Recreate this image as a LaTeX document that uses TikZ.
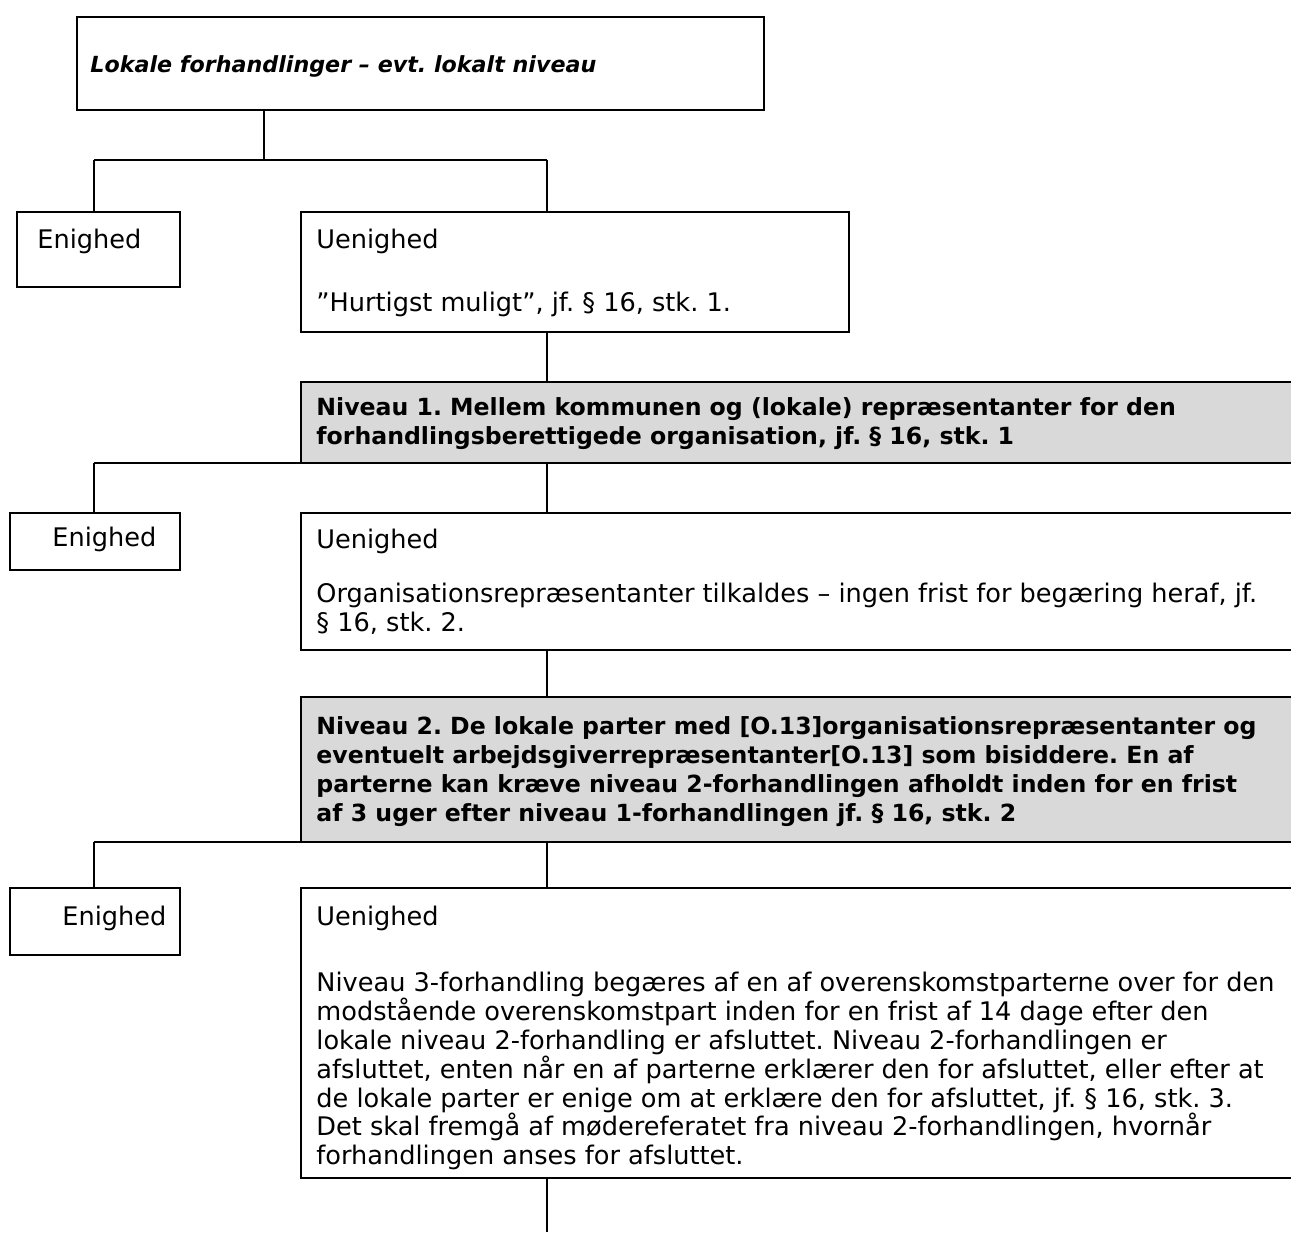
\documentclass[tikz,border=0pt]{standalone}
\usepackage{fontspec}
\setmainfont{DejaVu Sans}
\usepackage{tikz}
\usetikzlibrary{positioning}
\frenchspacing

\begin{document}
\begin{tikzpicture}[x=0.5pt,y=-0.5pt,
  box/.style={draw,line width=1pt,inner sep=0pt,outer sep=0pt,anchor=north west},
  graybox/.style={box,fill=black!15},
  link/.style={line width=0.6pt},
  txt/.style={inner sep=0pt,anchor=north west,align=left,font=\fontsize{12.8}{14.4}\selectfont},
  boldtxt/.style={txt,font=\fontsize{11.8}{14.5}\selectfont\bfseries}]
\useasboundingbox (0,0) rectangle (1291,1235);
\clip (0,0) rectangle (1291,1235);

% boxes
\node[box,minimum width=343.5pt,minimum height=46.5pt] (top) at (77,17) {};
\node[box,minimum width=81.5pt,minimum height=37.5pt] (enig1) at (17,212) {};
\node[box,minimum width=274pt,minimum height=60pt] (uenig1) at (301,212) {};
\node[graybox,minimum width=499.5pt,minimum height=40.5pt] (niv1) at (301,382) {};
\node[box,minimum width=85pt,minimum height=28.5pt] (enig2) at (10,513) {};
\node[box,minimum width=499.5pt,minimum height=68.5pt] (uenig2) at (301,513) {};
\node[graybox,minimum width=499.5pt,minimum height=72.5pt] (niv2) at (301,697) {};
\node[box,minimum width=85pt,minimum height=33.5pt] (enig3) at (10,888) {};
\node[box,minimum width=499.5pt,minimum height=145pt] (uenig3) at (301,888) {};

% texts
\node[txt,font=\fontsize{11.1}{14.5}\selectfont\bfseries\itshape] (toptxt) at (90,55) {Lokale forhandlinger – evt. lokalt niveau};
\node[txt] (enig1txt) at (37,229) {Enighed};
\node[txt] (uenig1txt) at (316,229) {Uenighed};
\node[txt] (uenig1par) at (316,292) {”Hurtigst muligt”, jf. § 16, stk. 1.};
\node[boldtxt] (niv1txt) at (316,397) {Niveau 1. Mellem kommunen og (lokale) repræsentanter for den\\
forhandlingsberettigede organisation, jf. § 16, stk. 1};
\node[txt] (enig2txt) at (52,527) {Enighed};
\node[txt] (uenig2txt) at (316,529) {Uenighed};
\node[txt] (uenig2par) at (316,583) {Organisationsrepræsentanter tilkaldes – ingen frist for begæring heraf, jf.\\
§ 16, stk. 2.};
\node[boldtxt] (niv2txt) at (316,716) {Niveau 2. De lokale parter med [O.13]organisationsrepræsentanter og\\
eventuelt arbejdsgiverrepræsentanter[O.13] som bisiddere. En af\\
parterne kan kræve niveau 2-forhandlingen afholdt inden for en frist\\
af 3 uger efter niveau 1-forhandlingen jf. § 16, stk. 2};
\node[txt] (enig3txt) at (62,906) {Enighed};
\node[txt] (uenig3txt) at (316,906) {Uenighed};
\node[txt] (uenig3par) at (316,972) {Niveau 3-forhandling begæres af en af overenskomstparterne over for den\\
modstående overenskomstpart inden for en frist af 14 dage efter den\\
lokale niveau 2-forhandling er afsluttet. Niveau 2-forhandlingen er\\
afsluttet, enten når en af parterne erklærer den for afsluttet, eller efter at\\
de lokale parter er enige om at erklære den for afsluttet, jf. § 16, stk. 3.\\
Det skal fremgå af mødereferatet fra niveau 2-forhandlingen, hvornår\\
forhandlingen anses for afsluttet.};

% connectors
\coordinate (lcol) at (94,0);
\coordinate (rcol) at (547,0);
\coordinate (split1) at (264,160);
\coordinate (tail) at (547,1232);
\draw[link] (split1 |- top.south) -- (split1);
\draw[link] (lcol |- split1) -- (rcol |- split1);
\draw[link] (lcol |- split1) -- (lcol |- enig1.north);
\draw[link] (rcol |- split1) -- (rcol |- uenig1.north);
\draw[link] (rcol |- uenig1.south) -- (rcol |- niv1.north);
\draw[link] (lcol |- niv1.south) -- (niv1.south west);
\draw[link] (lcol |- niv1.south) -- (lcol |- enig2.north);
\draw[link] (rcol |- niv1.south) -- (rcol |- uenig2.north);
\draw[link] (rcol |- uenig2.south) -- (rcol |- niv2.north);
\draw[link] (lcol |- niv2.south) -- (niv2.south west);
\draw[link] (lcol |- niv2.south) -- (lcol |- enig3.north);
\draw[link] (rcol |- niv2.south) -- (rcol |- uenig3.north);
\draw[link] (rcol |- uenig3.south) -- (tail);
\end{tikzpicture}
\end{document}
